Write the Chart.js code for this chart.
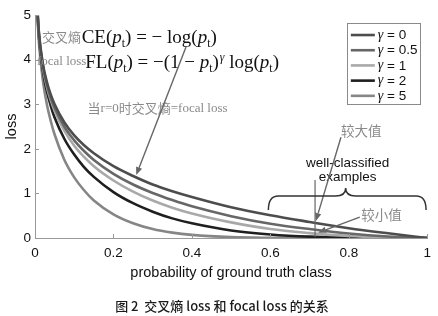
<!DOCTYPE html>
<html>
<head>
<meta charset="utf-8">
<script src="https://cdn.jsdelivr.net/npm/chart.js@4/dist/chart.umd.min.js"></script>
<style>
html,body{margin:0;padding:0;background:#fff;}
#wrap{width:438px;height:316px;}
</style>
</head>
<body>
<div id="wrap"><canvas id="c" width="438" height="316"></canvas></div>
<script>
// probability of ground truth class (x values)
const pValues = [0.005,0.01,0.02,0.03,0.04,0.05,0.075,0.1,0.125,0.15,0.2,0.25,0.3,0.35,0.4,0.5,0.6,0.7,0.8,0.9,1.0];
// loss values read for each curve
const lossG0   = [5.30,4.61,3.91,3.51,3.22,3.00,2.59,2.30,2.08,1.90,1.61,1.39,1.20,1.05,0.92,0.69,0.51,0.36,0.22,0.105,0];
const lossG05  = [5.29,4.58,3.87,3.45,3.15,2.92,2.49,2.19,1.95,1.75,1.44,1.20,1.01,0.85,0.71,0.49,0.32,0.20,0.10,0.033,0];
const lossG1   = [5.27,4.56,3.83,3.40,3.09,2.85,2.40,2.07,1.82,1.61,1.29,1.04,0.84,0.68,0.55,0.35,0.20,0.11,0.045,0.011,0];
const lossG2   = [5.25,4.51,3.76,3.30,2.97,2.70,2.22,1.87,1.59,1.37,1.03,0.78,0.59,0.44,0.33,0.17,0.08,0.03,0.009,0.001,0];
const lossG5   = [5.17,4.38,3.54,3.01,2.63,2.32,1.75,1.36,1.07,0.84,0.53,0.33,0.20,0.12,0.07,0.02,0.005,0.001,0,0,0];
const seriesLabels = ['γ = 0','γ = 0.5','γ = 1','γ = 2','γ = 5'];
const seriesColors = ['#4d4d4d','#676767','#a9a9a9','#1f1f1f','#868686'];
const xTickLabels = ['0','0.2','0.4','0.6','0.8','1'];
const yTickLabels = ['0','1','2','3','4','5'];
const xTickStep = 0.2;
const yTickStep = 1;

const allSeries = [lossG0,lossG05,lossG1,lossG2,lossG5];
const datasets = allSeries.map((vals,i)=>({
  label: seriesLabels[i],
  data: pValues.map((p,j)=>({x:p,y:vals[j]})),
  borderColor: seriesColors[i],
  backgroundColor: seriesColors[i],
  borderWidth: 2.6,
  pointRadius: 0,
  cubicInterpolationMode: 'monotone',
  fill: false,
  clip: 0
}));

const SANS = "'Liberation Sans', Arial, Helvetica, sans-serif";
const SERIF = "'Liberation Serif', 'Times New Roman', serif";
const CJK = "'Noto Sans CJK SC', sans-serif";

function drawRuns(ctx, x, y, runs, size, color){
  ctx.save();
  ctx.fillStyle = color;
  ctx.textBaseline = 'alphabetic';
  ctx.textAlign = 'left';
  let cx = x;
  for(const r of runs){
    let fs = size, dy = 0;
    if(r.sub){ fs = size*0.62; dy = size*0.22; }
    if(r.sup){ fs = size*0.62; dy = -size*0.38; }
    ctx.font = (r.italic?'italic ':'') + fs + 'px ' + SERIF;
    ctx.fillText(r.t, cx, y+dy);
    cx += ctx.measureText(r.t).width + (r.sp||0);
  }
  ctx.restore();
  return cx;
}
function arrow(ctx, x1,y1,x2,y2,color){
  ctx.save();
  ctx.strokeStyle=color; ctx.fillStyle=color; ctx.lineWidth=1.4;
  const a=Math.atan2(y2-y1,x2-x1), L=8, W=3.2;
  const bx=x2-L*Math.cos(a), by=y2-L*Math.sin(a);
  ctx.beginPath(); ctx.moveTo(x1,y1); ctx.lineTo(bx,by); ctx.stroke();
  ctx.beginPath(); ctx.moveTo(x2,y2);
  ctx.lineTo(bx+W*Math.sin(a), by-W*Math.cos(a));
  ctx.lineTo(bx-W*Math.sin(a), by+W*Math.cos(a));
  ctx.closePath(); ctx.fill();
  ctx.restore();
}

const decorPlugin = {
  id:'decor',
  afterDraw(chart){
    const ctx = chart.ctx, xs = chart.scales.x, ys = chart.scales.y;
    const X = v=>xs.getPixelForValue(v), Y = v=>ys.getPixelForValue(v);
    const ca = chart.chartArea;
    // inner tick marks
    ctx.save();
    ctx.strokeStyle='#999'; ctx.lineWidth=1;
    xs.ticks.forEach(t=>{ const px=Math.round(X(t.value))+0.5; ctx.beginPath(); ctx.moveTo(px,ca.bottom); ctx.lineTo(px,ca.bottom-4); ctx.stroke(); });
    ys.ticks.forEach(t=>{ const py=Math.round(Y(t.value))+0.5; ctx.beginPath(); ctx.moveTo(ca.left,py); ctx.lineTo(ca.left+4,py); ctx.stroke(); });
    ctx.restore();

    // legend box
    const lx = X(0.795), ly = Y(4.82), lw = 73, lh = 81;
    ctx.save();
    ctx.fillStyle='#fff'; ctx.fillRect(lx,ly,lw,lh);
    ctx.strokeStyle='#8a8a8a'; ctx.lineWidth=1;
    ctx.strokeRect(Math.round(lx)+0.5,Math.round(ly)+0.5,lw,lh);
    chart.data.datasets.forEach((ds,i)=>{
      const ry = ly + 12 + i*15.2;
      ctx.strokeStyle=ds.borderColor; ctx.lineWidth=2.6;
      ctx.beginPath(); ctx.moveTo(lx+4,ry); ctx.lineTo(lx+28,ry); ctx.stroke();
      ctx.fillStyle='#111'; ctx.textBaseline='middle'; ctx.textAlign='left';
      ctx.font='italic 14px '+SERIF;
      ctx.fillText('γ', lx+31, ry);
      const gw = ctx.measureText('γ').width;
      ctx.font='13.5px '+SANS;
      ctx.fillText(ds.label.replace('γ',''), lx+31+gw, ry+0.5);
    });
    ctx.restore();

    // formula annotations
    ctx.save();
    ctx.fillStyle='#8a8a8a'; ctx.textBaseline='middle'; ctx.textAlign='left';
    ctx.font='13px '+CJK;
    ctx.fillText('交叉熵', X(0.018), Y(4.51));
    ctx.font='13px '+SERIF;
    ctx.fillText('focal loss', X(0.005), Y(3.95));
    ctx.restore();
    drawRuns(ctx, X(0.119), Y(4.51)+6, [
      {t:'CE('},{t:'p',italic:true},{t:'t',sub:true},{t:') = − log('},{t:'p',italic:true},{t:'t',sub:true},{t:')'}
    ], 19, '#111');
    drawRuns(ctx, X(0.128), Y(3.95)+6, [
      {t:'FL('},{t:'p',italic:true},{t:'t',sub:true},{t:') = −(1 − '},{t:'p',italic:true},{t:'t',sub:true},{t:')',sp:1},{t:'γ',italic:true,sup:true},{t:' log('},{t:'p',italic:true},{t:'t',sub:true},{t:')'}
    ], 19, '#111');

    // 当r=0时交叉熵=focal loss
    ctx.save();
    ctx.fillStyle='#8a8a8a'; ctx.textBaseline='middle'; ctx.textAlign='left';
    let cx = X(0.134); const cy = Y(2.91);
    const parts = [['当',CJK],['r=0',SERIF],['时交叉熵',CJK],['=focal loss',SERIF]];
    parts.forEach(([t,f])=>{ ctx.font='13px '+f; ctx.fillText(t,cx,cy); cx+=ctx.measureText(t).width; });
    ctx.restore();

    arrow(ctx, X(0.385), Y(4.28), X(0.258), Y(1.41), '#666');

    // right side annotations
    ctx.save();
    ctx.fillStyle='#8a8a8a'; ctx.textBaseline='middle'; ctx.textAlign='left';
    ctx.font='13.5px '+CJK;
    ctx.fillText('较大值', X(0.780), Y(2.40));
    ctx.fillText('较小值', X(0.832), Y(0.52));
    ctx.fillStyle='#111'; ctx.textAlign='center';
    ctx.font='13.5px '+SANS;
    ctx.fillText('well-classified', X(0.797), Y(1.68));
    ctx.fillText('examples', X(0.797), Y(1.36));
    ctx.restore();

    // vertical pointer line
    ctx.save();
    ctx.strokeStyle='#666'; ctx.lineWidth=1.2;
    ctx.beginPath(); ctx.moveTo(X(0.714), Y(1.30)); ctx.lineTo(X(0.714), Y(0.02)); ctx.stroke();
    ctx.restore();
    arrow(ctx, X(0.780), Y(2.26), X(0.716), Y(0.38), '#666');
    arrow(ctx, X(0.828), Y(0.47), X(0.722), Y(0.12), '#666');

    // brace
    const bl=X(0.595), br=X(0.997), bm=X(0.792), tipY=Y(0.63), bodyY=Y(0.94), peakY=Y(1.12);
    ctx.save();
    ctx.strokeStyle='#333'; ctx.lineWidth=1.5;
    ctx.beginPath();
    ctx.moveTo(bl,tipY);
    ctx.quadraticCurveTo(bl,bodyY,bl+10,bodyY);
    ctx.lineTo(bm-10,bodyY);
    ctx.quadraticCurveTo(bm,bodyY,bm,peakY);
    ctx.quadraticCurveTo(bm,bodyY,bm+10,bodyY);
    ctx.lineTo(br-10,bodyY);
    ctx.quadraticCurveTo(br,bodyY,br,tipY);
    ctx.stroke();
    ctx.restore();

    // caption
    ctx.save();
    ctx.fillStyle='#1a1a1a'; ctx.textAlign='center'; ctx.textBaseline='middle';
    ctx.font='500 13px '+CJK;
    ctx.fillText('图 2  交叉熵 loss 和 focal loss 的关系', chart.width/2+3, 306);
    ctx.restore();
  }
};

new Chart(document.getElementById('c'), {
  type:'line',
  data:{ datasets },
  options:{
    responsive:false,
    devicePixelRatio:1,
    animation:false,
    events:[],
    layout:{ padding:{ top:15, right:8, left:0, bottom:0 } },
    plugins:{ legend:{display:false}, tooltip:{enabled:false}, title:{display:false} },
    scales:{
      x:{
        type:'linear', min:0, max:1,
        ticks:{ stepSize:xTickStep, color:'#111', font:{size:13.5, family:SANS}, padding:7, maxRotation:0,
          callback:(v,i)=>xTickLabels[i] },
        grid:{ display:true, drawOnChartArea:false, drawTicks:false },
        border:{ color:'#999', width:1 },
        title:{ display:true, text:'probability of ground truth class', color:'#111', font:{size:14.5, family:SANS}, padding:{top:4,bottom:34} },
        afterFit(s){ s.height = 78; }
      },
      y:{
        type:'linear', min:0, max:5,
        ticks:{ stepSize:yTickStep, color:'#111', font:{size:13.5, family:SANS}, padding:4,
          callback:(v,i)=>yTickLabels[i] },
        grid:{ display:true, drawOnChartArea:false, drawTicks:false },
        border:{ color:'#999', width:1 },
        title:{ display:true, text:'loss', color:'#111', font:{size:14.5, family:SANS}, padding:{top:3,bottom:0} },
        afterFit(s){ s.width = 35; }
      }
    }
  },
  plugins:[decorPlugin]
});
</script>
</body>
</html>
